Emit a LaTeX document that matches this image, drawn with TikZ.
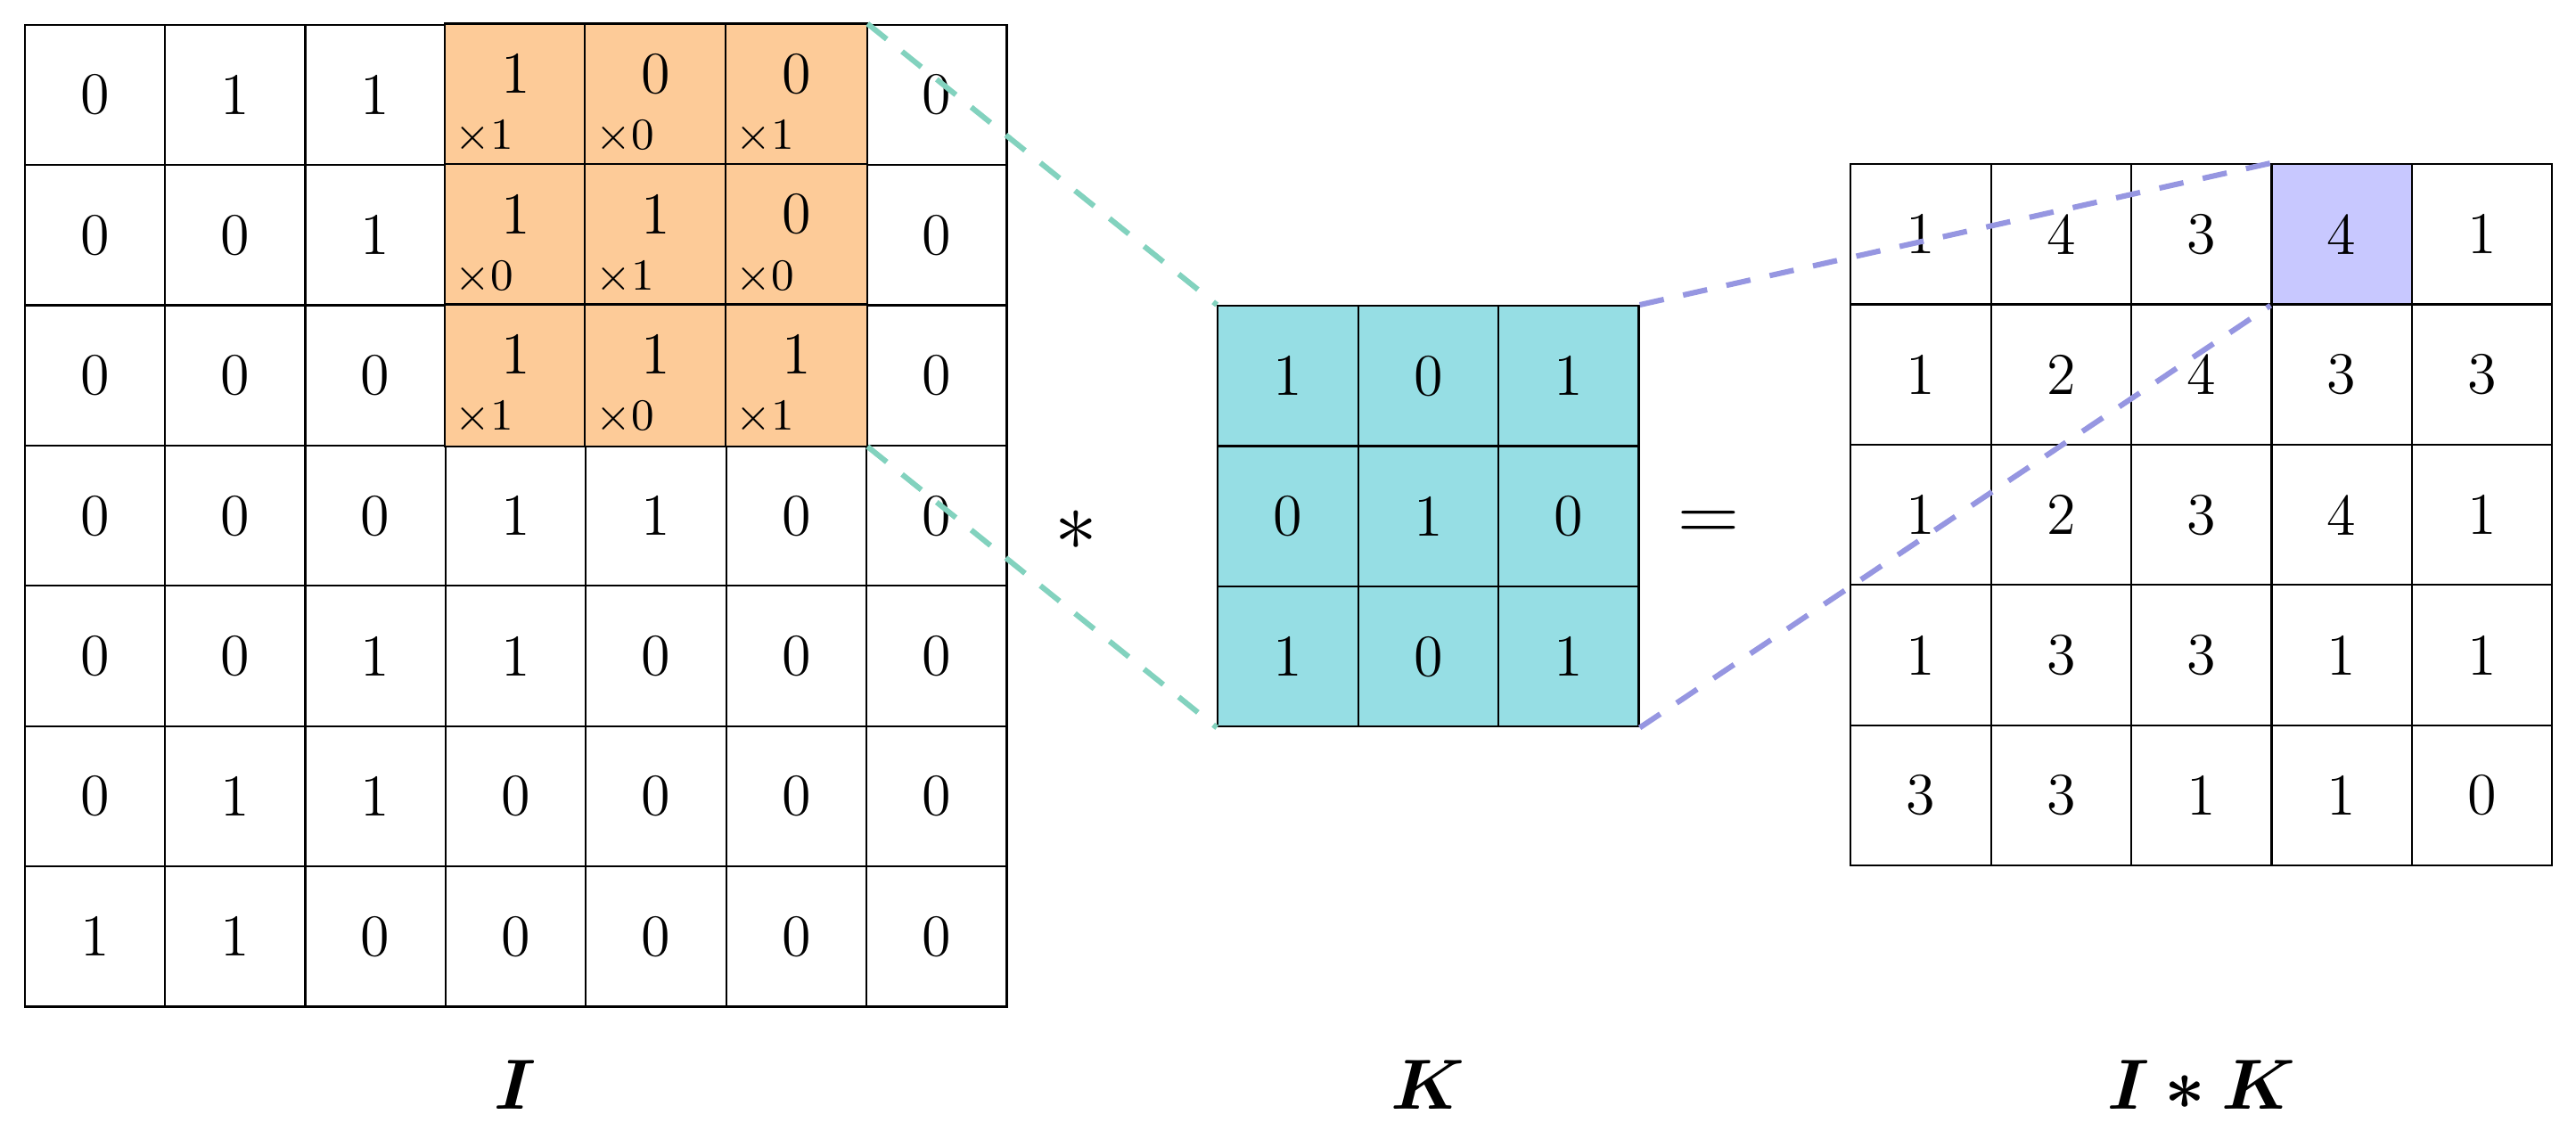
\documentclass[tikz,border=0pt]{standalone}
\usepackage{amsmath}
\usepackage{amssymb}
\usepackage{bm}
\definecolor{patch}{RGB}{253,203,152}
\definecolor{kern}{RGB}{150,222,228}
\definecolor{hit}{RGB}{200,200,255}
\definecolor{tealline}{RGB}{130,210,190}
\definecolor{purpline}{RGB}{150,150,225}
\tikzset{
  cell/.style={draw, minimum size=1cm, inner sep=0pt, font=\large},
  mult/.style={font=\small, inner sep=0pt, anchor=south west},
  link/.style={dashed, line width=1.1pt, dash pattern=on 5pt off 4pt}
}
\begin{document}
\begin{tikzpicture}
            \useasboundingbox (0,0) rectangle (18.36,-8.06);
            % input I
            \foreach \line [count=\r] in {{0,1,1,1,0,0,0},{0,0,1,1,1,0,0},{0,0,0,1,1,1,0},{0,0,0,1,1,0,0},{0,0,1,1,0,0,0},{0,1,1,0,0,0,0},{1,1,0,0,0,0,0}}
              \foreach \v [count=\c] in \line
                \node[cell] (I-\r-\c) at (0.176+\c-0.5, -0.176-\r+0.5) {};
            \foreach \line [count=\r] in {{0,1,1,1,0,0,0},{0,0,1,1,1,0,0},{0,0,0,1,1,1,0},{0,0,0,1,1,0,0},{0,0,1,1,0,0,0},{0,1,1,0,0,0,0},{1,1,0,0,0,0,0}}
              \foreach \v [count=\c] in \line {
                \ifnum\r<4 \ifnum\c>3 \ifnum\c<7
                  \fill[patch] (I-\r-\c.south west) rectangle (I-\r-\c.north east);
                  \draw (I-\r-\c.south west) rectangle (I-\r-\c.north east);
                  \node[font=\large] at ([yshift=0.15cm]I-\r-\c.center) {\v};
                \fi\fi\fi
              }
            \foreach \line [count=\r] in {{0,1,1,1,0,0,0},{0,0,1,1,1,0,0},{0,0,0,1,1,1,0},{0,0,0,1,1,0,0},{0,0,1,1,0,0,0},{0,1,1,0,0,0,0},{1,1,0,0,0,0,0}}
              \foreach \v [count=\c] in \line {
                \pgfmathtruncatemacro{\inpatch}{(\r<4)&&(\c>3)&&(\c<7)}
                \ifnum\inpatch=0 \node[font=\large] at (I-\r-\c.center) {\v}; \fi
              }
            % multipliers
            \foreach \m [count=\k from 0] in {1,0,1,0,1,0,1,0,1} {
              \pgfmathtruncatemacro{\r}{int(\k/3)+1}
              \pgfmathtruncatemacro{\c}{mod(\k,3)+4}
              \node[mult] at ([shift={(0.07,0.08)}]I-\r-\c.south west) {$\times$\m};
            }
            % kernel K
            \foreach \line [count=\r] in {{1,0,1},{0,1,0},{1,0,1}}
              \foreach \v [count=\c] in \line
                \node[cell, fill=kern] (K-\r-\c) at (8.68+\c-0.5, -2.18-\r+0.5) {\v};
            % output
            \foreach \line [count=\r] in {{1,4,3,4,1},{1,2,4,3,3},{1,2,3,4,1},{1,3,3,1,1},{3,3,1,1,0}}
              \foreach \v [count=\c] in \line
                \node[cell] (O-\r-\c) at (13.19+\c-0.5, -1.17-\r+0.5) {\v};
            \node[cell, fill=hit] at (O-1-4) {4};
            % operators and labels
            \node[font=\LARGE] (star) at (7.67,-3.78) {$*$};
            \node[font=\LARGE] (eq) at (12.18,-3.75) {$=$};
            \node[font=\Large] (lI) at (3.67,-7.73) {$\bm{I}$};
            \node[font=\Large] (lK) at (10.18,-7.73) {$\bm{K}$};
            \node[font=\Large] (lO) at (15.69,-7.73) {$\bm{I*K}$};
            % links
            \draw[link, tealline] (I-1-6.north east) -- (K-1-1.north west);
            \draw[link, tealline] (I-3-6.south east) -- (K-3-1.south west);
            \draw[link, purpline] (K-1-3.north east) -- (O-1-4.north west);
            \draw[link, purpline] (K-3-3.south east) -- (O-1-4.south west);
\end{tikzpicture}
\end{document}
